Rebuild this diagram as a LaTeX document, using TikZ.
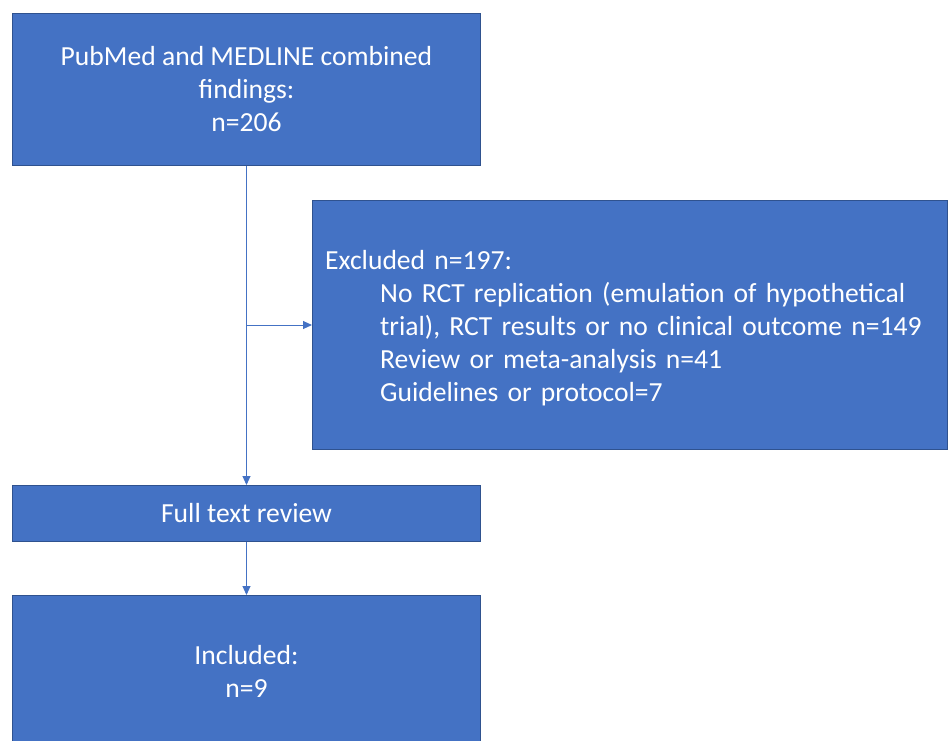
\documentclass[tikz,border=0pt]{standalone}
\usepackage{fontspec}
\setmainfont{Carlito}
\usetikzlibrary{arrows.meta}
\definecolor{boxfill}{HTML}{4472C4}
\definecolor{boxline}{HTML}{2F528F}
\begin{document}
\begin{tikzpicture}[x=1pt,y=-1pt,
  txt/.style={text=white,inner sep=0pt,font=\fontsize{27.6}{33}\selectfont},
  box/.style={draw=boxline,line width=1pt,fill=boxfill,txt,anchor=north west},
  conn/.style={draw=boxfill,line width=1pt,-{Triangle[length=9pt,width=8pt]}}]
\useasboundingbox (0,0) rectangle (948,740);
\node[box,minimum width=468pt,minimum height=152pt,align=center] (b1) at (12,13)
  {PubMed and MEDLINE combined\\findings:\\n=206};
\node[box,minimum width=635pt,minimum height=249pt] (b2) at (312,200) {};
\node[txt,align=left,text width=609pt,anchor=west] (t2) at ([xshift=13pt,yshift=-3pt]b2.west)
  {Excluded n=197:\\
   \hspace*{55pt}No RCT replication (emulation of hypothetical\\
   \hspace*{55pt}trial), RCT results or no clinical outcome n=149\\
   \hspace*{55pt}Review or meta-analysis n=41\\
   \hspace*{55pt}Guidelines or protocol=7};
\node[box,minimum width=468pt,minimum height=56pt,align=center] (b3) at (12,485)
  {Full text review};
\node[box,minimum width=468pt,minimum height=152pt,align=center] (b4) at (12,595)
  {Included:\\n=9};
\coordinate (j) at (b1.south |- b2.west);
\draw[conn] (b1.south) -- (b3.north);
\draw[conn] (j) -- (b2.west);
\draw[conn] (b3.south) -- (b4.north);
\end{tikzpicture}
\end{document}
